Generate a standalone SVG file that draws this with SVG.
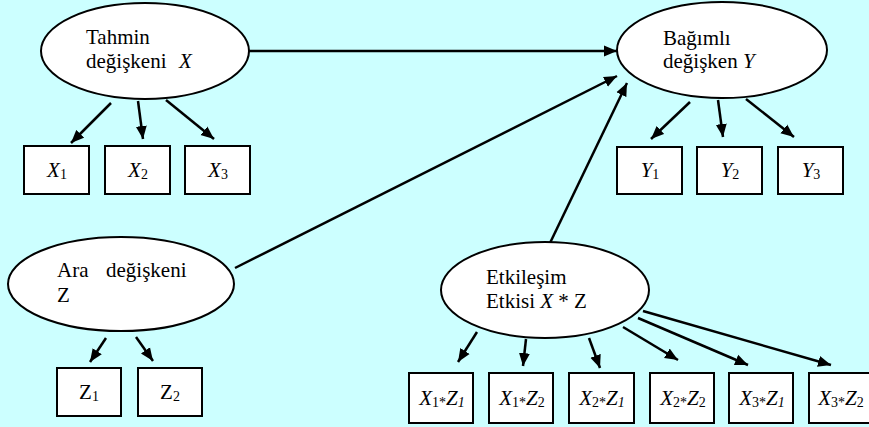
<svg xmlns="http://www.w3.org/2000/svg" width="869" height="427" viewBox="0 0 869 427">
<style>
.bg{fill:#CCFFFF}
.el{fill:#FFFFFF;stroke:#000;stroke-width:2}
.bx{fill:#FFFFFF;stroke:#000;stroke-width:2}
text{font-family:'Liberation Serif','Times New Roman',Times,'DejaVu Serif',serif;font-size:21px;fill:#000}
.i{font-style:italic}
.s{font-size:14px}
.c{text-anchor:middle}
.ln{stroke:#000;stroke-width:2.5;fill:none}
.ar{marker-end:url(#ah)}
</style>
<defs>
<marker id="ah" markerUnits="userSpaceOnUse" markerWidth="14" markerHeight="12" refX="13" refY="5.5" orient="auto" viewBox="0 0 14 11">
<path d="M0,0 L13,5.5 L0,11 z" fill="#000"/>
</marker>
</defs>
<rect class="bg" x="0" y="0" width="869" height="427"/>
<g id="connectors">
<line class="ln ar" x1="249" y1="51" x2="617" y2="51"/>
<line class="ln ar" x1="235" y1="268" x2="617" y2="76"/>
<line class="ln ar" x1="550" y1="243" x2="627" y2="83"/>
<line class="ln ar" x1="111" y1="103" x2="71" y2="143"/>
<line class="ln ar" x1="138" y1="101" x2="143" y2="139"/>
<line class="ln ar" x1="166" y1="100" x2="214" y2="139"/>
<line class="ln ar" x1="690" y1="102" x2="651" y2="139"/>
<line class="ln ar" x1="718" y1="100" x2="723" y2="137"/>
<line class="ln ar" x1="746" y1="99" x2="794" y2="137"/>
<line class="ln ar" x1="106" y1="338" x2="90" y2="362"/>
<line class="ln ar" x1="136" y1="337" x2="153" y2="361"/>
<line class="ln ar" x1="477" y1="332" x2="458" y2="362"/>
<line class="ln ar" x1="526" y1="339" x2="523" y2="366"/>
<line class="ln ar" x1="589" y1="338" x2="600" y2="368"/>
<line class="ln ar" x1="623" y1="327" x2="678" y2="360"/>
<line class="ln ar" x1="638" y1="318" x2="748" y2="365"/>
<line class="ln ar" x1="643" y1="311" x2="831" y2="365"/>
</g>
<g id="tahmin">
<ellipse class="el" cx="145" cy="51" rx="104" ry="48"/>
<text x="86" y="44">Tahmin</text>
<text x="86" y="68">değişkeni</text>
<text class="i" x="179" y="68">X</text>
</g>
<g id="bagimli">
<ellipse class="el" cx="722" cy="50" rx="105" ry="48"/>
<text x="663" y="45">Bağımlı</text>
<text x="663" y="68">değişken <tspan class="i">Y</tspan></text>
</g>
<g id="ara">
<ellipse class="el" cx="121" cy="284" rx="113" ry="47"/>
<text x="57" y="277">Ara</text>
<text x="106" y="277">değişkeni</text>
<text x="57" y="302">Z</text>
</g>
<g id="etkilesim">
<ellipse class="el" cx="545" cy="290" rx="104" ry="48"/>
<text x="486" y="284">Etkileşim</text>
<text x="486" y="308">Etkisi <tspan class="i">X</tspan> * Z</text>
</g>
<g id="x1"><rect class="bx" x="24" y="146" width="65" height="48"/><text class="c" x="57" y="177"><tspan class="i">X</tspan><tspan class="s" dy="2">1</tspan></text></g>
<g id="x2"><rect class="bx" x="105" y="146" width="65" height="48"/><text class="c" x="138" y="177"><tspan class="i">X</tspan><tspan class="s" dy="2">2</tspan></text></g>
<g id="x3"><rect class="bx" x="185" y="146" width="65" height="48"/><text class="c" x="218" y="177"><tspan class="i">X</tspan><tspan class="s" dy="2">3</tspan></text></g>
<g id="y1"><rect class="bx" x="617" y="147" width="65" height="47"/><text class="c" x="650" y="177"><tspan class="i">Y</tspan><tspan class="s" dy="2">1</tspan></text></g>
<g id="y2"><rect class="bx" x="697" y="147" width="65" height="47"/><text class="c" x="730" y="177"><tspan class="i">Y</tspan><tspan class="s" dy="2">2</tspan></text></g>
<g id="y3"><rect class="bx" x="778" y="147" width="65" height="47"/><text class="c" x="811" y="177"><tspan class="i">Y</tspan><tspan class="s" dy="2">3</tspan></text></g>
<g id="z1"><rect class="bx" x="57" y="368" width="64" height="48"/><text class="c" x="89" y="399">Z<tspan class="s" dy="2">1</tspan></text></g>
<g id="z2"><rect class="bx" x="138" y="368" width="64" height="48"/><text class="c" x="170" y="399">Z<tspan class="s" dy="2">2</tspan></text></g>
<g id="x1z1"><rect class="bx" x="409" y="373" width="64" height="50"/><text class="c" x="442" y="405"><tspan class="i">X</tspan><tspan class="s" dy="2">1*</tspan><tspan class="i" dy="-2">Z</tspan><tspan class="s i" dy="2">1</tspan></text></g>
<g id="x1z2"><rect class="bx" x="489" y="373" width="64" height="50"/><text class="c" x="522" y="405"><tspan class="i">X</tspan><tspan class="s" dy="2">1*</tspan><tspan class="i" dy="-2">Z</tspan><tspan class="s" dy="2">2</tspan></text></g>
<g id="x2z1"><rect class="bx" x="569" y="373" width="65" height="50"/><text class="c" x="602" y="405"><tspan class="i">X</tspan><tspan class="s" dy="2">2*</tspan><tspan class="i" dy="-2">Z</tspan><tspan class="s i" dy="2">1</tspan></text></g>
<g id="x2z2"><rect class="bx" x="650" y="373" width="64" height="50"/><text class="c" x="683" y="405"><tspan class="i">X</tspan><tspan class="s" dy="2">2*</tspan><tspan class="i" dy="-2">Z</tspan><tspan class="s" dy="2">2</tspan></text></g>
<g id="x3z1"><rect class="bx" x="729" y="373" width="64" height="50"/><text class="c" x="762" y="405"><tspan class="i">X</tspan><tspan class="s" dy="2">3*</tspan><tspan class="i" dy="-2">Z</tspan><tspan class="s i" dy="2">1</tspan></text></g>
<g id="x3z2"><rect class="bx" x="809" y="373" width="64" height="50"/><text class="c" x="841" y="405"><tspan class="i">X</tspan><tspan class="s" dy="2">3*</tspan><tspan class="i" dy="-2">Z</tspan><tspan class="s" dy="2">2</tspan></text></g>
</svg>
